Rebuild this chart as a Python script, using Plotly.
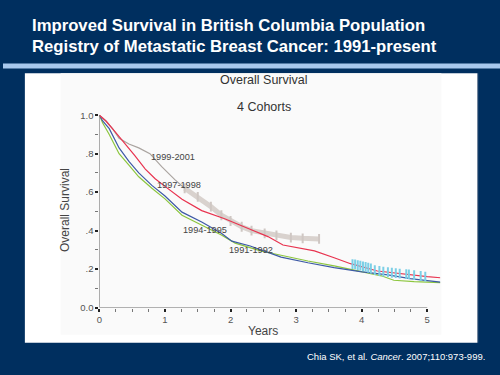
import plotly.graph_objects as go

# ---- data ----
years_ticks = [0, 1, 2, 3, 4, 5]
surv_ticks = [0.0, 0.2, 0.4, 0.6, 0.8, 1.0]
surv_ticktext = ["0.0", ".2", ".4", ".6", ".8", "1.0"]

c9901_x = [0, 0.1, 0.2, 0.3, 0.45, 0.6, 0.77, 0.95, 1.15, 1.3]
c9901_y = [1.0, 0.97, 0.93, 0.88, 0.85, 0.83, 0.80, 0.733, 0.665, 0.62]
c9901_cens_x = [1.3, 1.5, 1.7, 1.86, 2.0, 2.17, 2.32, 2.52, 2.7, 2.92, 3.1, 3.35]
c9901_cens_y = [0.62, 0.575, 0.525, 0.48, 0.45, 0.42, 0.40, 0.386, 0.375, 0.364, 0.36, 0.357]

c9798_x = [0, 0.1, 0.25, 0.4, 0.54, 0.7, 0.85, 1.0, 1.26, 1.56, 1.91, 2.27, 2.57, 2.8, 2.92, 3.28, 3.58, 3.83, 4.24, 4.6, 5.0, 5.2]
c9798_y = [1.0, 0.97, 0.91, 0.85, 0.79, 0.72, 0.67, 0.63, 0.563, 0.504, 0.462, 0.411, 0.369, 0.325, 0.318, 0.295, 0.259, 0.228, 0.19, 0.175, 0.161, 0.155]
c9798_cens_x = [3.86, 3.9, 3.94, 3.98, 4.02, 4.06, 4.1, 4.14, 4.2, 4.27, 4.33, 4.4, 4.46, 4.52, 4.58, 4.68, 4.72, 4.8, 4.9, 4.97]
c9798_cens_y = [0.226, 0.224, 0.221, 0.218, 0.214, 0.211, 0.207, 0.203, 0.195, 0.19, 0.187, 0.184, 0.181, 0.179, 0.176, 0.174, 0.172, 0.169, 0.164, 0.161]

c9495_x = [0, 0.05, 0.15, 0.3, 0.45, 0.6, 0.8, 1.0, 1.26, 1.56, 1.86, 2.02, 2.3, 2.47, 2.77, 3.18, 3.58, 3.98, 4.4, 4.74, 5.0, 5.2]
c9495_y = [1.0, 0.97, 0.93, 0.83, 0.76, 0.70, 0.635, 0.58, 0.496, 0.445, 0.386, 0.345, 0.32, 0.30, 0.262, 0.233, 0.208, 0.187, 0.17, 0.15, 0.138, 0.132]

c9192_x = [0, 0.05, 0.15, 0.3, 0.45, 0.6, 0.8, 1.0, 1.26, 1.56, 1.86, 2.07, 2.47, 2.77, 3.18, 3.58, 3.98, 4.3, 4.49, 4.8, 5.2]
c9192_y = [1.0, 0.96, 0.90, 0.80, 0.74, 0.68, 0.62, 0.565, 0.48, 0.428, 0.377, 0.335, 0.293, 0.272, 0.242, 0.217, 0.19, 0.165, 0.142, 0.135, 0.13]

cohort_labels = ["1999-2001", "1997-1998", "1994-1995", "1991-1992"]
label_x = [0.76, 0.85, 1.25, 1.95]
label_y = [0.782, 0.635, 0.403, 0.301]

# ---- figure ----
NAVY = "#002f5f"
W, H = 500, 375

def px(x):
    return x / W

def py(y):
    return 1 - y / H

fig = go.Figure()

fig.add_trace(go.Scatter(x=c9901_cens_x, y=c9901_cens_y, mode="lines",
                         line=dict(color="#d9d2ce", width=5), hoverinfo="skip"))
fig.add_trace(go.Scatter(x=c9901_cens_x, y=c9901_cens_y, mode="markers",
                         marker=dict(symbol="line-ns", size=7, line=dict(color="#cfc7c3", width=2)),
                         hoverinfo="skip"))
fig.add_trace(go.Scatter(x=c9192_x, y=c9192_y, mode="lines",
                         line=dict(color="#8dc63f", width=1.2)))
fig.add_trace(go.Scatter(x=c9495_x, y=c9495_y, mode="lines",
                         line=dict(color="#3d5aa6", width=1.2)))
fig.add_trace(go.Scatter(x=c9901_x, y=c9901_y, mode="lines",
                         line=dict(color="#aaa4a0", width=1.2)))
fig.add_trace(go.Scatter(x=c9798_x, y=c9798_y, mode="lines",
                         line=dict(color="#e8334f", width=1.2)))
fig.add_trace(go.Scatter(x=c9798_cens_x, y=c9798_cens_y, mode="markers",
                         marker=dict(symbol="line-ns", size=7, line=dict(color="#7ccfe6", width=2)),
                         hoverinfo="skip"))

shapes = [
    dict(type="rect", xref="paper", yref="paper", x0=0, x1=1, y0=py(66), y1=py(61),
         fillcolor="#a8c9ee", line=dict(width=0), layer="below"),
    dict(type="rect", xref="paper", yref="paper", x0=px(22), x1=px(477), y0=py(347), y1=py(71),
         fillcolor="white", line=dict(width=0), layer="below"),
    dict(type="line", xref="paper", yref="paper", x0=px(477.5), x1=px(477.5), y0=py(347), y1=py(71),
         line=dict(color="#7f8fa3", width=1), layer="below"),
    dict(type="rect", xref="paper", yref="paper", x0=px(58), x1=px(441), y0=py(339), y1=py(71),
         fillcolor="#fafafa", line=dict(width=0), layer="below"),
    dict(type="line", xref="x", yref="y", x0=years_ticks[0], x1=years_ticks[-1], y0=0, y1=0,
         line=dict(color="#666", width=1)),
    dict(type="line", xref="x", yref="y", x0=0, x1=0, y0=surv_ticks[0], y1=surv_ticks[-1],
         line=dict(color="#666", width=1)),
]

TITLE_FONT = dict(family="Liberation Sans, Arial", size=16.7, color="white", weight="bold")
annotations = [
    dict(text="Improved Survival in British Columbia Population", xref="paper", yref="paper",
         x=px(27), y=py(21.7), xanchor="left", yanchor="middle", showarrow=False, font=TITLE_FONT),
    dict(text="Registry of Metastatic Breast Cancer: 1991-present", xref="paper", yref="paper",
         x=px(27), y=py(43.3), xanchor="left", yanchor="middle", showarrow=False, font=TITLE_FONT),
    dict(text="Overall Survival", xref="paper", yref="paper", x=px(262.5), y=py(78.3),
         xanchor="center", yanchor="middle", showarrow=False,
         font=dict(family="Liberation Sans, Arial", size=12.5, color="#333")),
    dict(text="4 Cohorts", xref="paper", yref="paper", x=px(263), y=py(106),
         xanchor="center", yanchor="middle", showarrow=False,
         font=dict(family="Liberation Sans, Arial", size=12.5, color="#333")),
    dict(text="Years", xref="paper", yref="paper", x=px(262), y=py(335),
         xanchor="center", yanchor="middle", showarrow=False,
         font=dict(family="Liberation Sans, Arial", size=12, color="#444")),
    dict(text="Overall Survival", xref="paper", yref="paper", x=px(63), y=py(211.5),
         xanchor="center", yanchor="middle", showarrow=False, textangle=-90,
         font=dict(family="Liberation Sans, Arial", size=12, color="#444")),
    dict(text="Chia SK, et al. <i>Cancer</i>. 2007;110:973-999.", xref="paper", yref="paper",
         x=px(487), y=py(360.7), xanchor="right", yanchor="middle", showarrow=False,
         font=dict(family="Liberation Sans, Arial", size=9.5, color="white")),
]
for t, lx, ly in zip(cohort_labels, label_x, label_y):
    annotations.append(dict(text=t, xref="x", yref="y", x=lx, y=ly, xanchor="left",
                            yanchor="middle", showarrow=False,
                            font=dict(family="Liberation Sans, Arial", size=9.2, color="#444")))

fig.update_layout(
    width=W, height=H, autosize=False,
    margin=dict(l=0, r=0, t=0, b=0),
    paper_bgcolor=NAVY, plot_bgcolor="rgba(0,0,0,0)",
    showlegend=False,
    shapes=shapes, annotations=annotations,
    xaxis=dict(domain=[px(97), px(440)], range=[0, 5.2], showgrid=False, zeroline=False,
               showline=False, tickmode="array", tickvals=years_ticks,
               ticks="outside", ticklen=3, tickwidth=2, tickcolor="#222",
               minor=dict(dtick=0.25, tick0=0, ticks="outside", ticklen=3, tickwidth=1, tickcolor="#777"),
               tickfont=dict(family="Liberation Sans, Arial", size=9.5, color="#555"), fixedrange=True),
    yaxis=dict(domain=[py(311), py(112)], range=[0, 1.01], showgrid=False, zeroline=False,
               showline=False, tickmode="array", tickvals=surv_ticks, ticktext=surv_ticktext,
               ticks="outside", ticklen=3, tickwidth=2, tickcolor="#222",
               minor=dict(dtick=0.1, tick0=0, ticks="outside", ticklen=3, tickwidth=1, tickcolor="#777"),
               tickfont=dict(family="Liberation Sans, Arial", size=9.5, color="#555"), fixedrange=True),
)

fig.write_html(
    "out.html",
    config={"displayModeBar": False},
    post_script="document.body.style.margin='0';document.body.style.overflow='hidden';"
                "document.documentElement.style.overflow='hidden';",
)
